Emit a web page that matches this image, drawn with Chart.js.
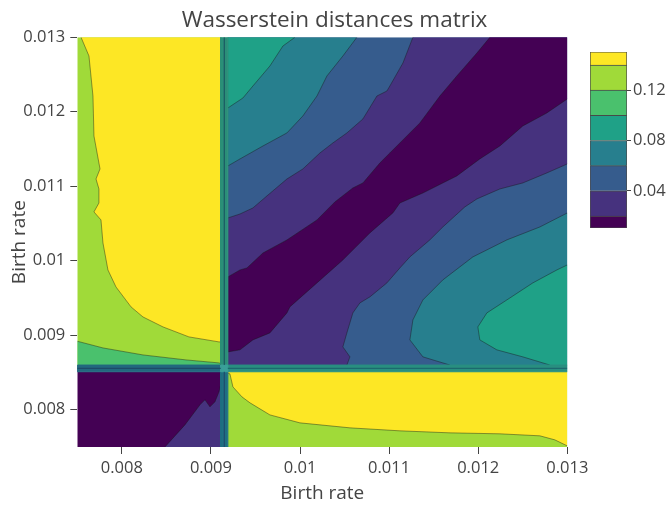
<!DOCTYPE html>
<html><head><meta charset="utf-8">
<script src="https://cdn.jsdelivr.net/npm/chart.js@4.4.0/dist/chart.umd.min.js"></script>
<style>
html,body{margin:0;padding:0;background:#fff;}
#wrap{position:relative;width:669px;height:506px;overflow:hidden;}
#main{position:absolute;left:0;top:0;}
#cb{position:absolute;left:580px;top:40px;}
</style></head><body>
<div id="wrap"><canvas id="main" width="669" height="506"></canvas><canvas id="cb" width="89" height="200"></canvas></div>
<script>
// ---------- data ----------
const xRange = [0.0075, 0.013];
const yRange = [0.0075, 0.013];
const xTickVals = [0.008, 0.009, 0.010, 0.011, 0.012, 0.013];
const xTickLabels = ['0.008', '0.009', '0.01', '0.011', '0.012', '0.013'];
const yTickVals = [0.008, 0.009, 0.010, 0.011, 0.012, 0.013];
const yTickLabels = ['0.008', '0.009', '0.01', '0.011', '0.012', '0.013'];
// contour levels (colorbar) and viridis fills
const levelEdges = [0.0104, 0.02, 0.04, 0.06, 0.08, 0.10, 0.12, 0.14, 0.1504];
const levelColors = ['#440154', '#46327e', '#365c8d', '#277f8e', '#1fa187', '#4ac16d', '#a0da39', '#fde725'];
const cbTickVals = [0.04, 0.08, 0.12];
const cbTickLabels = ['0.04', '0.08', '0.12'];
// discontinuity strips (data coordinates)
const stripX = [0.00911, 0.00919];
const stripY = [0.00851, 0.0086];

// contour boundaries, [x, y] in data units
const c014UL = [[0.00911,0.008911],[0.00909,0.008911],[0.008753,0.008978],[0.008462,0.009112],[0.008237,0.009246],[0.008103,0.009381],[0.007934,0.009649],[0.007844,0.009877],[0.007788,0.01024],[0.007766,0.010548],[0.007687,0.010656],[0.007743,0.010776],[0.007743,0.010964],[0.00771,0.011098],[0.007755,0.011233],[0.007687,0.011675],[0.007676,0.012212],[0.007631,0.012749],[0.007542,0.013]];
const c012UL = [[0.0075,0.00892],[0.007788,0.00883],[0.008237,0.008736],[0.00872,0.008669],[0.00909,0.008629],[0.00911,0.00862]];
const c002LL = [[0.008484,0.0075],[0.008708,0.007797],[0.008877,0.008066],[0.008933,0.008133],[0.008989,0.008039],[0.009045,0.008106],[0.00909,0.00824],[0.00911,0.008334]];
const c014LR = [[0.00919,0.00849],[0.009213,0.008482],[0.009247,0.008307],[0.009348,0.008173],[0.009438,0.008093],[0.00955,0.008012],[0.009662,0.007931],[0.009999,0.007824],[0.01056,0.007757],[0.011121,0.007717],[0.011682,0.00769],[0.012243,0.007677],[0.012692,0.00765],[0.01286,0.007596],[0.013,0.007515]];
const c008URtop = [[0.009943,0.013],[0.009808,0.012883],[0.009662,0.012615],[0.009471,0.012346],[0.009359,0.012185],[0.00919,0.012051]];
const c006URtop = [[0.010638,0.013],[0.010481,0.012749],[0.010302,0.012481],[0.01019,0.012212],[0.010032,0.011944],[0.009853,0.011716],[0.009584,0.011541],[0.009326,0.011367],[0.00919,0.011273]];
const c004URtop = [[0.011267,0.013],[0.011155,0.012655],[0.011008,0.012346],[0.010975,0.012279],[0.010863,0.012212],[0.010706,0.011904],[0.010526,0.011716],[0.010369,0.011582],[0.010223,0.011447],[0.010032,0.011233],[0.009853,0.011098],[0.009628,0.01087],[0.009471,0.010709],[0.009326,0.010628],[0.00919,0.010575]];
const c002URtop = [[0.012131,0.013],[0.011985,0.012789],[0.01176,0.012481],[0.01157,0.012212],[0.011345,0.01185],[0.011121,0.011582],[0.011008,0.011447],[0.010896,0.011313],[0.010706,0.011045],[0.010593,0.010978],[0.010391,0.01079],[0.01019,0.010548],[0.009853,0.01028],[0.009584,0.010105],[0.009404,0.009904],[0.009326,0.009877],[0.00919,0.009783]];
const c002URbot = [[0.013,0.012172],[0.01277,0.011984],[0.012501,0.01181],[0.012243,0.011541],[0.012018,0.011367],[0.01176,0.011139],[0.011379,0.01091],[0.011121,0.010776],[0.011042,0.010642],[0.010784,0.010374],[0.010481,0.010011],[0.01019,0.009703],[0.009886,0.009381],[0.009853,0.0093],[0.009662,0.009032],[0.009471,0.008938],[0.009326,0.008804],[0.00919,0.008777]];
const c004URbot = [[0.013,0.0113],[0.01277,0.011179],[0.012501,0.011045],[0.012243,0.010964],[0.011985,0.01083],[0.01185,0.010723],[0.011603,0.010454],[0.011457,0.01028],[0.011233,0.010052],[0.011121,0.009904],[0.010975,0.009703],[0.010784,0.009515],[0.010672,0.009434],[0.010593,0.0093],[0.010526,0.009032],[0.010481,0.008844],[0.01056,0.00871],[0.010526,0.0086]];
const c006URbot = [[0.013,0.010642],[0.012692,0.010454],[0.012321,0.01028],[0.01194,0.010052],[0.011603,0.009743],[0.011379,0.009474],[0.011267,0.009206],[0.011233,0.008938],[0.011379,0.00871],[0.011682,0.0086]];
const c008URbot = [[0.013,0.009944],[0.012883,0.009877],[0.012613,0.009703],[0.012321,0.009474],[0.012097,0.0093],[0.011996,0.009112],[0.012018,0.008938],[0.012209,0.008804],[0.012501,0.00871],[0.012804,0.0086]];

// ---------- build polygons from the data ----------
const [x0, x1] = xRange, [y0, y1] = yRange;
const [xa, xb] = stripX, [ya, yb] = stripY;
const rect = (l, r, b, t) => [[l,b],[r,b],[r,t],[l,t],[l,b]];
const rev = a => a.slice().reverse();
const layers = [
  {poly: rect(x0, xa, yb, y1), lvl: 6},
  {poly: [...c014UL, [xa, y1]], lvl: 7},
  {poly: [...c012UL, [xa, yb], [x0, yb]], lvl: 5},
  {poly: rect(x0, xa, y0, ya), lvl: 0},
  {poly: [...c002LL, [xa, y0]], lvl: 1},
  {poly: rect(xb, x1, y0, ya), lvl: 6},
  {poly: [...c014LR, [x1, ya], [xb, ya]], lvl: 7},
  {poly: rect(xb, x1, yb, y1), lvl: 2},
  {poly: [...c006URtop, [xb, y1]], lvl: 3},
  {poly: [...c008URtop, [xb, y1]], lvl: 4},
  {poly: [...c004URtop, [xb, yb], ...rev(c004URbot), [x1, y1]], lvl: 1},
  {poly: [...c002URtop, ...rev(c002URbot), [x1, y1]], lvl: 0},
  {poly: [...c006URbot, [x1, yb]], lvl: 3},
  {poly: [...c008URbot, [x1, yb]], lvl: 4}
];
const xm = (xa + xb) / 2, ym = (ya + yb) / 2;
const strips = [
  {poly: rect(xa, xb, yb, y1), color: '#2b8f78'},
  {poly: rect(xa, xb, y0, ya), color: '#1f6f82'},
  {poly: rect(x0, xa, ya, yb), color: '#22687f'},
  {poly: rect(xb, x1, ya, yb), color: '#298f80'},
  {poly: rect(xa, xb, ya, yb), color: '#3a9f98'}
];
const stripLines = [
  {pts: [[xm, yb], [xm, y1]], color: 'rgba(25,80,95,0.85)'},
  {pts: [[xm, y0], [xm, ya]], color: 'rgba(30,70,105,0.85)'},
  {pts: [[x0, ym], [xa, ym]], color: 'rgba(28,70,100,0.85)'},
  {pts: [[xb, ym], [x1, ym]], color: 'rgba(25,95,105,0.8)'}
];
const contourLines = [c014UL, c012UL, c002LL, c014LR, c008URtop, c006URtop, c004URtop, c002URtop, c002URbot, c004URbot, c006URbot, c008URbot];

const toPts = a => a.map(p => ({x: p[0], y: p[1]}));
const datasets = [];
layers.forEach(L => datasets.push({data: toPts(L.poly), showLine: true, fill: 'shape', backgroundColor: levelColors[L.lvl], borderColor: 'rgba(0,0,0,0)', borderWidth: 0, pointRadius: 0}));
contourLines.forEach(c => datasets.push({data: toPts(c), showLine: true, fill: false, borderColor: 'rgba(25,25,25,0.42)', borderWidth: 1, pointRadius: 0}));
strips.forEach(s => datasets.push({data: toPts(s.poly), showLine: true, fill: 'shape', backgroundColor: s.color, borderColor: s.color, borderWidth: 1, pointRadius: 0}));
stripLines.forEach(s => datasets.push({data: toPts(s.pts), showLine: true, fill: false, borderColor: s.color, borderWidth: 1.2, pointRadius: 0}));
datasets.forEach((d, i) => { d.order = datasets.length - i; d.pointHitRadius = 0; });

const FONT = "'Open Sans', sans-serif";
const TXT = '#444';

new Chart(document.getElementById('main'), {
  type: 'scatter',
  data: {datasets},
  options: {
    responsive: false, animation: false, devicePixelRatio: 1,
    layout: {padding: 0},
    plugins: {
      legend: {display: false}, tooltip: {enabled: false},
      title: {display: true, text: 'Wasserstein distances matrix', color: TXT,
        font: {family: FONT, size: 22.5, weight: 'normal'}, padding: {top: 6.8, bottom: 3.5}}
    },
    scales: {
      x: {type: 'linear', min: x0, max: x1, position: 'bottom',
        afterBuildTicks: s => { s.ticks = xTickVals.map(v => ({value: v})); },
        afterFit: s => { s.height = 59; },
        grid: {display: true, drawOnChartArea: false, drawTicks: true, tickLength: 7, color: TXT},
        border: {display: false},
        ticks: {autoSkip: false, maxRotation: 0, padding: 4, color: TXT, font: {family: FONT, size: 16.5},
          callback: (v, i) => xTickLabels[i]},
        title: {display: true, text: 'Birth rate', color: TXT, font: {family: FONT, size: 19}, padding: {top: 0, bottom: 0.6}}
      },
      y: {type: 'linear', min: y0, max: y1, position: 'left',
        afterBuildTicks: s => { s.ticks = yTickVals.map(v => ({value: v})); },
        afterFit: s => { s.width = 77.3; },
        grid: {display: true, drawOnChartArea: false, drawTicks: true, tickLength: 7, color: TXT},
        border: {display: false},
        ticks: {autoSkip: false, padding: 5, color: TXT, font: {family: FONT, size: 16.5},
          callback: (v, i) => yTickLabels[i]},
        title: {display: true, text: 'Birth rate', color: TXT, font: {family: FONT, size: 19}, padding: {top: 8.6, bottom: 0}}
      },
      yR: {type: 'linear', position: 'right', display: true,
        afterFit: s => { s.width = 101.7; },
        grid: {display: false}, border: {display: false}, ticks: {display: false}}
    }
  }
});

// ---------- colorbar ----------
const cbDatasets = levelColors.map((c, i) => ({
  data: [[levelEdges[i], levelEdges[i + 1]]],
  backgroundColor: c, borderColor: 'rgba(45,45,45,0.85)',
  borderWidth: {top: 1, left: 1, right: 1, bottom: i === 0 ? 1 : 0}, borderSkipped: false,
  barPercentage: 1, categoryPercentage: 1, grouped: false
}));
new Chart(document.getElementById('cb'), {
  type: 'bar',
  data: {labels: ['z'], datasets: cbDatasets},
  options: {
    responsive: false, animation: false, devicePixelRatio: 1,
    layout: {padding: {left: 10, top: 10, bottom: 10, right: 0}},
    plugins: {legend: {display: false}, tooltip: {enabled: false}, title: {display: false}},
    scales: {
      x: {display: false},
      y: {type: 'linear', position: 'right', min: levelEdges[0], max: levelEdges[levelEdges.length - 1],
        afterBuildTicks: s => { s.ticks = cbTickVals.map(v => ({value: v})); },
        afterFit: s => { s.width = 42; },
        grid: {display: true, drawOnChartArea: false, drawTicks: true, tickLength: 4, color: TXT},
        border: {display: false},
        ticks: {autoSkip: false, padding: 2, color: TXT, font: {family: FONT, size: 16.5},
          callback: (v, i) => cbTickLabels[i]}
      }
    }
  }
});
</script>
</body></html>
